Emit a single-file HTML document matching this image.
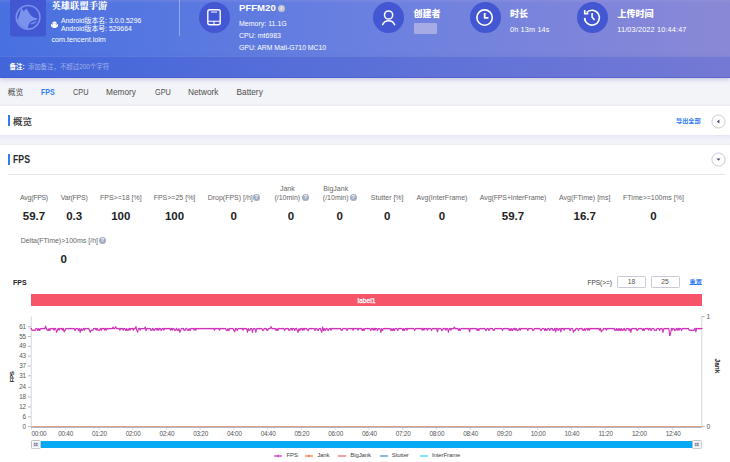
<!DOCTYPE html>
<html><head><meta charset="utf-8">
<style>
*{box-sizing:border-box;margin:0;padding:0}
html,body{width:730px;height:462px;overflow:hidden;background:#fff}
body{position:relative;font-family:"Liberation Sans","Noto Sans CJK SC",sans-serif;color:#333}
.a{position:absolute;white-space:nowrap}
#hdr{position:absolute;left:0;top:0;width:730px;height:56px;background:linear-gradient(180deg,rgba(180,170,230,.2) 0,rgba(180,170,230,0) 3px),linear-gradient(90deg,#4870e0 0%,#6a80e0 50%,#8a88d6 100%)}
#band{position:absolute;left:0;top:55.6px;width:730px;height:22.8px;background:linear-gradient(90deg,#4266da 0%,#5a70d8 50%,#7479d4 100%);border-top:1px solid rgba(255,255,255,.1);border-bottom:1px solid rgba(70,80,200,.45);box-shadow:0 2px 4px rgba(120,120,185,.32)}
#tabs{position:absolute;left:0;top:78px;width:730px;height:27.5px;background:linear-gradient(180deg,#f3f4f8 0%,#f3f4f8 92%,#eceef4 100%)}
#sec1{position:absolute;left:0;top:105.5px;width:730px;height:29.5px;background:#fff}
#gap{position:absolute;left:0;top:135px;width:730px;height:10px;background:linear-gradient(180deg,#e4e7f1 0%,#f1f2f7 40%,#f3f4f8 80%,#eceef5 100%)}
#sec2{position:absolute;left:0;top:145px;width:730px;height:317px;background:#fff}
.w{color:#fff}
.circ{position:absolute;width:31px;height:31px;border-radius:50%;background:#4357d2}
.tab{position:absolute;top:86.2px;font-size:8.3px;color:#4d4d4d;line-height:12px}
.lbl{position:absolute;font-size:7px;color:#666;line-height:9px;text-align:center;white-space:nowrap}
.val{position:absolute;font-size:11.5px;font-weight:bold;color:#222;line-height:14px;text-align:center}
.q{display:inline-block;width:7px;height:7px;border-radius:50%;background:#a3abc2;color:#fff;font-size:6px;line-height:7px;text-align:center;font-weight:bold;vertical-align:-1px;margin-left:1px}
.yl{position:absolute;font-size:6.5px;color:#555;line-height:8px;text-align:right;width:20px;left:6px}
.xl{position:absolute;font-size:6.5px;color:#555;line-height:8px;top:430px;width:30px;text-align:center}
.lg{position:absolute;top:450.7px;font-size:6px;color:#444;line-height:9px;letter-spacing:-0.1px}
.qi{position:absolute;width:7px;height:7px;border-radius:50%;background:#a5adc4}
.qi:after{content:"?";position:absolute;left:0;top:0;width:7px;text-align:center;font-size:5.5px;line-height:7px;font-weight:bold;color:#fff}
.inp{position:absolute;top:276.1px;width:29.2px;height:11.8px;border:0.8px solid #c9ccd4;border-radius:1.2px;background:#fff;font-size:6.8px;line-height:10.6px;text-align:center;color:#555}
.hdl{position:absolute;top:440px;width:9.7px;height:9px;border:1px solid #c4c4c8;border-radius:1px;background:#f6f6f7;box-shadow:inset 0 0 0 1px #fdfdfd}
.hdl:after{content:"";position:absolute;left:2.9px;top:2.9px;width:3.7px;height:3.1px;background:linear-gradient(90deg,transparent 45%,#fff 45%,#fff 60%,transparent 60%),linear-gradient(180deg,#7d82a0 45%,#fff 45%,#fff 58%,#7d82a0 58%)}
</style></head>
<body>
<div id="tabs"></div>
<div id="hdr"></div>
<div id="band"></div>
<div id="sec1"></div>
<div id="gap"></div>
<div id="sec2"></div>

<!-- app icon -->
<svg class="a" style="left:10px;top:0px" width="36" height="37" viewBox="0 0 36 37">
  <rect x="0" y="-4" width="36" height="40.5" rx="3" fill="#4257d2"/>
  <circle cx="18.1" cy="17.3" r="11.8" fill="none" stroke="#7b93ec" stroke-width="1.6"/>
  <path d="M11.5 7.5 L13.5 11.6 L16.5 8.6 L18.7 12.6 L21.4 16 L24.2 17.8 L27.7 18.4 L26.2 20 L23.4 20.4 L19.9 22.3 L18.2 25.8 L17.9 28.3 A11.05 11.05 0 0 1 7.6 20.2 L9.6 14.8 Z" fill="#7b93ec"/>
  <path d="M20.6 23.4 Q23.8 21.6 27.3 20.9 Q25.6 23 21.6 24.6 Z" fill="#7b93ec"/>
</svg>

<div class="a w" style="left:51.5px;top:-1px;font-size:9.3px;font-weight:900;line-height:13px;font-family:'Noto Serif CJK SC',serif">英雄联盟手游</div>
<svg class="a" style="left:51.4px;top:20.8px" width="7" height="7.4" viewBox="0 0 7 7.4">
  <path d="M1.15 2.75 A2.35 2.3 0 0 1 5.85 2.75 Z" fill="#fff"/>
  <rect x="1.15" y="3.05" width="4.7" height="3.9" rx="1.1" fill="#fff"/>
  <rect x="0" y="3.1" width="1" height="2.6" rx="0.5" fill="#fff"/>
  <rect x="6" y="3.1" width="1" height="2.6" rx="0.5" fill="#fff"/>
</svg>
<div class="a w" style="left:61px;top:15.7px;font-size:6.85px;line-height:9px">Android版本名: 3.0.0.5296</div>
<div class="a w" style="left:61px;top:24.2px;font-size:6.85px;line-height:9px">Android版本号: 529664</div>
<div class="a w" style="left:51.5px;top:34.6px;font-size:7.2px;line-height:9px">com.tencent.lolm</div>

<div class="a" style="left:178.5px;top:0;width:1px;height:35.5px;background:rgba(255,255,255,.35)"></div>

<!-- device -->
<div class="circ" style="left:198.5px;top:1.5px"></div>
<svg class="a" style="left:198.5px;top:1.5px" width="31" height="31" viewBox="0 0 31 31">
  <rect x="8.8" y="7.8" width="12.4" height="14.9" rx="2" fill="none" stroke="#fff" stroke-width="1.4"/>
  <rect x="11.9" y="9.5" width="6.2" height="1.1" fill="#e4e8ff"/>
  <path d="M8.8 19.3 H21.2 M15 19.3 V22.6" stroke="#fff" stroke-width="1.1" fill="none"/>
</svg>
<div class="a w" style="left:239.2px;top:1.7px;font-size:9.9px;font-weight:bold;line-height:12px;transform:scaleX(.97);transform-origin:0 0">PFFM20</div>
<div class="a" style="left:277.8px;top:4.9px;width:7px;height:7px;border-radius:50%;background:#c3c5d1;color:#fff;font-size:5.6px;line-height:7px;text-align:center;font-weight:bold;font-style:italic">i</div>
<div class="a w" style="left:239px;top:19px;font-size:7px;line-height:9px">Memory: 11.1G</div>
<div class="a w" style="left:239px;top:31px;font-size:7px;line-height:9px">CPU: mt6983</div>
<div class="a w" style="left:239px;top:43px;font-size:6.85px;line-height:9px">GPU: ARM Mali-G710 MC10</div>

<!-- creator -->
<div class="circ" style="left:372.5px;top:1.5px"></div>
<svg class="a" style="left:372.5px;top:1.5px" width="31" height="31" viewBox="0 0 31 31">
  <circle cx="15.6" cy="13" r="4.1" fill="none" stroke="#fff" stroke-width="1.5"/>
  <path d="M9.6 22.6 A6.6 6.6 0 0 1 21.6 22.6" fill="none" stroke="#fff" stroke-width="1.5" stroke-linecap="round"/>
</svg>
<div class="a w" style="left:413.5px;top:6.5px;font-size:9px;font-weight:900;line-height:13px;font-family:'Noto Sans CJK SC',sans-serif">创建者</div>
<div class="a" style="left:413.5px;top:22.5px;width:23px;height:11px;background:#a6abe6;border-radius:1px"></div>

<!-- duration -->
<div class="circ" style="left:469.5px;top:1.5px"></div>
<svg class="a" style="left:469.5px;top:1.5px" width="31" height="31" viewBox="0 0 31 31">
  <circle cx="14.6" cy="15.6" r="7.7" fill="none" stroke="#fff" stroke-width="1.6"/>
  <path d="M14.7 10.9 V15.9 H18.4" fill="none" stroke="#fff" stroke-width="1.8"/>
</svg>
<div class="a w" style="left:510px;top:6.5px;font-size:9px;font-weight:900;line-height:13px;font-family:'Noto Sans CJK SC',sans-serif">时长</div>
<div class="a w" style="left:510px;top:25.2px;font-size:7.3px;line-height:9px;letter-spacing:0.15px">0h 13m 14s</div>

<!-- upload -->
<div class="circ" style="left:576.5px;top:1.5px"></div>
<svg class="a" style="left:576.5px;top:1.5px" width="31" height="31" viewBox="0 0 31 31">
  <path d="M9.6 10.6 A7.4 7.4 0 1 1 7.6 15.9" fill="none" stroke="#fff" stroke-width="1.6"/>
  <path d="M7.7 8 V11.7 H11.4" fill="none" stroke="#fff" stroke-width="1.6"/>
  <path d="M15.1 11.1 V15.3 L17.6 17.9" fill="none" stroke="#fff" stroke-width="1.6"/>
</svg>
<div class="a w" style="left:617.5px;top:7px;font-size:9px;font-weight:900;line-height:13px;font-family:'Noto Sans CJK SC',sans-serif">上传时间</div>
<div class="a w" style="left:617.3px;top:25.2px;font-size:7.3px;line-height:9px;letter-spacing:0.15px">11/03/2022 10:44:47</div>

<!-- remark -->
<div class="a w" style="left:9.6px;top:62.2px;font-size:6.5px;font-weight:bold;line-height:10px">备注:</div>
<div class="a" style="left:27.7px;top:62.2px;font-size:6.45px;line-height:10px;color:rgba(255,255,255,.47)">添加备注，不超过200个字符</div>

<!-- tabs -->
<div class="tab" style="left:7.7px;font-size:7.8px;top:87.4px">概览</div>
<div class="tab" style="left:41px;color:#2f7cf6;font-weight:bold;font-size:8.4px;transform:scaleX(.84);transform-origin:0 0">FPS</div>
<div class="tab" style="left:72.5px;transform:scaleX(.89);transform-origin:0 0">CPU</div>
<div class="tab" style="left:106px">Memory</div>
<div class="tab" style="left:154.5px;transform:scaleX(.88);transform-origin:0 0">GPU</div>
<div class="tab" style="left:188px">Network</div>
<div class="tab" style="left:236.5px">Battery</div>

<!-- section titles -->
<div class="a" style="left:8px;top:115px;width:2px;height:11px;background:#2f7cf6"></div>
<div class="a" style="left:13px;top:114.2px;font-size:9.6px;line-height:14px;color:#2a2a2a;font-weight:500;font-family:'Noto Sans CJK SC',sans-serif">概览</div>
<div class="a" style="left:676px;top:116.3px;font-size:6.2px;line-height:9px;color:#2f7cf6;font-weight:bold;font-family:'Noto Sans CJK SC',sans-serif">导出全部</div>
<svg class="a" style="left:710.5px;top:114px" width="15" height="15" viewBox="0 0 15 15">
  <circle cx="7.5" cy="7.5" r="6.6" fill="#fff" stroke="#c3c7d3" stroke-width="0.9"/>
  <path d="M5.9 7.5 L8.4 5.6 V9.4 Z" fill="#3d4463"/>
</svg>

<div class="a" style="left:8px;top:153.5px;width:2px;height:11.5px;background:#2f7cf6"></div>
<div class="a" style="left:13.3px;top:153.2px;font-size:10.2px;font-weight:bold;line-height:14px;color:#2a2a2a;transform:scaleX(.86);transform-origin:0 0">FPS</div>
<svg class="a" style="left:710.5px;top:152px" width="15" height="15" viewBox="0 0 15 15">
  <circle cx="7.5" cy="7.5" r="6.6" fill="#fff" stroke="#c3c7d3" stroke-width="0.9"/>
  <path d="M5.6 6.4 L9.4 6.4 L7.5 8.8 Z" fill="#3d4463"/>
</svg>
<div class="a" style="left:8px;top:174px;width:717px;height:1px;background:#e6e8ee"></div>

<!-- stats -->
<div class="lbl" style="left:-26.0px;top:193.0px;width:120px;letter-spacing:-0.30px">Avg(FPS)</div>
<div class="val" style="left:4.0px;top:208.5px;width:60px">59.7</div>
<div class="lbl" style="left:14.2px;top:193.0px;width:120px;letter-spacing:-0.25px">Var(FPS)</div>
<div class="val" style="left:44.2px;top:208.5px;width:60px">0.3</div>
<div class="lbl" style="left:60.8px;top:193.0px;width:120px">FPS&gt;=18 [%]</div>
<div class="val" style="left:90.8px;top:208.5px;width:60px">100</div>
<div class="lbl" style="left:114.5px;top:193.0px;width:120px">FPS&gt;=25 [%]</div>
<div class="val" style="left:144.5px;top:208.5px;width:60px">100</div>
<div class="lbl" style="left:170.2px;top:193.0px;width:120px">Drop(FPS) [/h]</div>
<div class="lbl" style="left:327.2px;top:193.0px;width:120px">Stutter [%]</div>
<div class="val" style="left:357.2px;top:208.5px;width:60px">0</div>
<div class="lbl" style="left:382.0px;top:193.0px;width:120px">Avg(InterFrame)</div>
<div class="val" style="left:412.0px;top:208.5px;width:60px">0</div>
<div class="lbl" style="left:453.0px;top:193.0px;width:120px;letter-spacing:-0.12px">Avg(FPS+InterFrame)</div>
<div class="val" style="left:483.0px;top:208.5px;width:60px">59.7</div>
<div class="lbl" style="left:524.7px;top:193.0px;width:120px">Avg(FTime) [ms]</div>
<div class="val" style="left:554.7px;top:208.5px;width:60px">16.7</div>
<div class="lbl" style="left:593.5px;top:193.0px;width:120px">FTime&gt;=100ms [%]</div>
<div class="val" style="left:623.5px;top:208.5px;width:60px">0</div>
<div class="val" style="left:203.7px;top:208.5px;width:60px">0</div>
<span class="qi" style="left:253.0px;top:194.2px"></span>
<div class="lbl" style="left:227.3px;top:184.4px;width:120px">Jank</div>
<div class="lbl" style="left:227.3px;top:193.0px;width:120px">(/10min)</div>
<span class="qi" style="left:301.9px;top:194.2px"></span>
<div class="val" style="left:261.0px;top:208.5px;width:60px">0</div>
<div class="lbl" style="left:275.7px;top:184.4px;width:120px">BigJank</div>
<div class="lbl" style="left:275.7px;top:193.0px;width:120px">(/10min)</div>
<span class="qi" style="left:349.8px;top:194.2px"></span>
<div class="val" style="left:309.6px;top:208.5px;width:60px">0</div>
<div class="lbl" style="left:-0.7px;top:236.3px;width:120px">Delta(FTime)&gt;100ms [/h]</div>
<span class="qi" style="left:98.9px;top:237.1px"></span>
<div class="val" style="left:33.7px;top:251.8px;width:60px">0</div>

<!-- chart -->
<svg class="a" style="left:0;top:0" width="730" height="462" viewBox="0 0 730 462">
<line x1="31.2" y1="316.5" x2="31.2" y2="426.6" stroke="#d3d5dc" stroke-width="1"/>
<line x1="701.8" y1="316.5" x2="701.8" y2="426.6" stroke="#d3d5dc" stroke-width="1"/>
<line x1="28" y1="326.70" x2="30.7" y2="326.70" stroke="#9a9a9a" stroke-width="0.7"/>
<text x="25.9" y="328.80" text-anchor="end" font-size="6.3" letter-spacing="-0.2" fill="#555">61</text>
<line x1="28" y1="336.53" x2="30.7" y2="336.53" stroke="#9a9a9a" stroke-width="0.7"/>
<text x="25.9" y="338.63" text-anchor="end" font-size="6.3" letter-spacing="-0.2" fill="#555">55</text>
<line x1="28" y1="346.35" x2="30.7" y2="346.35" stroke="#9a9a9a" stroke-width="0.7"/>
<text x="25.9" y="348.45" text-anchor="end" font-size="6.3" letter-spacing="-0.2" fill="#555">49</text>
<line x1="28" y1="356.18" x2="30.7" y2="356.18" stroke="#9a9a9a" stroke-width="0.7"/>
<text x="25.9" y="358.28" text-anchor="end" font-size="6.3" letter-spacing="-0.2" fill="#555">43</text>
<line x1="28" y1="366.00" x2="30.7" y2="366.00" stroke="#9a9a9a" stroke-width="0.7"/>
<text x="25.9" y="368.10" text-anchor="end" font-size="6.3" letter-spacing="-0.2" fill="#555">37</text>
<line x1="28" y1="375.83" x2="30.7" y2="375.83" stroke="#9a9a9a" stroke-width="0.7"/>
<text x="25.9" y="377.93" text-anchor="end" font-size="6.3" letter-spacing="-0.2" fill="#555">31</text>
<line x1="28" y1="387.30" x2="30.7" y2="387.30" stroke="#9a9a9a" stroke-width="0.7"/>
<text x="25.9" y="389.40" text-anchor="end" font-size="6.3" letter-spacing="-0.2" fill="#555">24</text>
<line x1="28" y1="397.12" x2="30.7" y2="397.12" stroke="#9a9a9a" stroke-width="0.7"/>
<text x="25.9" y="399.22" text-anchor="end" font-size="6.3" letter-spacing="-0.2" fill="#555">18</text>
<line x1="28" y1="406.95" x2="30.7" y2="406.95" stroke="#9a9a9a" stroke-width="0.7"/>
<text x="25.9" y="409.05" text-anchor="end" font-size="6.3" letter-spacing="-0.2" fill="#555">12</text>
<line x1="28" y1="416.77" x2="30.7" y2="416.77" stroke="#9a9a9a" stroke-width="0.7"/>
<text x="25.9" y="418.87" text-anchor="end" font-size="6.3" letter-spacing="-0.2" fill="#555">6</text>
<line x1="28" y1="426.60" x2="30.7" y2="426.60" stroke="#9a9a9a" stroke-width="0.7"/>
<text x="25.9" y="428.70" text-anchor="end" font-size="6.3" letter-spacing="-0.2" fill="#555">0</text>
<line x1="701.8" y1="316.6" x2="704.8" y2="316.6" stroke="#9a9a9a" stroke-width="0.7"/>
<line x1="701.8" y1="426.6" x2="704.8" y2="426.6" stroke="#9a9a9a" stroke-width="0.7"/>
<text x="706.5" y="318.9" font-size="6.6" fill="#555">1</text>
<text x="706.5" y="428.9" font-size="6.6" fill="#555">0</text>
<line x1="31.40" y1="426.6" x2="31.40" y2="429.6" stroke="#c8c8c8" stroke-width="0.7"/>
<text x="31.5" y="436.1" font-size="6.4" letter-spacing="-0.25" fill="#555">00:00</text>
<line x1="65.15" y1="426.6" x2="65.15" y2="429.6" stroke="#c8c8c8" stroke-width="0.7"/>
<text x="65.60" y="436.1" text-anchor="middle" font-size="6.4" letter-spacing="-0.25" fill="#555">00:40</text>
<line x1="98.90" y1="426.6" x2="98.90" y2="429.6" stroke="#c8c8c8" stroke-width="0.7"/>
<text x="99.35" y="436.1" text-anchor="middle" font-size="6.4" letter-spacing="-0.25" fill="#555">01:20</text>
<line x1="132.65" y1="426.6" x2="132.65" y2="429.6" stroke="#c8c8c8" stroke-width="0.7"/>
<text x="133.10" y="436.1" text-anchor="middle" font-size="6.4" letter-spacing="-0.25" fill="#555">02:00</text>
<line x1="166.40" y1="426.6" x2="166.40" y2="429.6" stroke="#c8c8c8" stroke-width="0.7"/>
<text x="166.85" y="436.1" text-anchor="middle" font-size="6.4" letter-spacing="-0.25" fill="#555">02:40</text>
<line x1="200.15" y1="426.6" x2="200.15" y2="429.6" stroke="#c8c8c8" stroke-width="0.7"/>
<text x="200.60" y="436.1" text-anchor="middle" font-size="6.4" letter-spacing="-0.25" fill="#555">03:20</text>
<line x1="233.90" y1="426.6" x2="233.90" y2="429.6" stroke="#c8c8c8" stroke-width="0.7"/>
<text x="234.35" y="436.1" text-anchor="middle" font-size="6.4" letter-spacing="-0.25" fill="#555">04:00</text>
<line x1="267.65" y1="426.6" x2="267.65" y2="429.6" stroke="#c8c8c8" stroke-width="0.7"/>
<text x="268.10" y="436.1" text-anchor="middle" font-size="6.4" letter-spacing="-0.25" fill="#555">04:40</text>
<line x1="301.40" y1="426.6" x2="301.40" y2="429.6" stroke="#c8c8c8" stroke-width="0.7"/>
<text x="301.85" y="436.1" text-anchor="middle" font-size="6.4" letter-spacing="-0.25" fill="#555">05:20</text>
<line x1="335.15" y1="426.6" x2="335.15" y2="429.6" stroke="#c8c8c8" stroke-width="0.7"/>
<text x="335.60" y="436.1" text-anchor="middle" font-size="6.4" letter-spacing="-0.25" fill="#555">06:00</text>
<line x1="368.90" y1="426.6" x2="368.90" y2="429.6" stroke="#c8c8c8" stroke-width="0.7"/>
<text x="369.35" y="436.1" text-anchor="middle" font-size="6.4" letter-spacing="-0.25" fill="#555">06:40</text>
<line x1="402.65" y1="426.6" x2="402.65" y2="429.6" stroke="#c8c8c8" stroke-width="0.7"/>
<text x="403.10" y="436.1" text-anchor="middle" font-size="6.4" letter-spacing="-0.25" fill="#555">07:20</text>
<line x1="436.40" y1="426.6" x2="436.40" y2="429.6" stroke="#c8c8c8" stroke-width="0.7"/>
<text x="436.85" y="436.1" text-anchor="middle" font-size="6.4" letter-spacing="-0.25" fill="#555">08:00</text>
<line x1="470.15" y1="426.6" x2="470.15" y2="429.6" stroke="#c8c8c8" stroke-width="0.7"/>
<text x="470.60" y="436.1" text-anchor="middle" font-size="6.4" letter-spacing="-0.25" fill="#555">08:40</text>
<line x1="503.90" y1="426.6" x2="503.90" y2="429.6" stroke="#c8c8c8" stroke-width="0.7"/>
<text x="504.35" y="436.1" text-anchor="middle" font-size="6.4" letter-spacing="-0.25" fill="#555">09:20</text>
<line x1="537.65" y1="426.6" x2="537.65" y2="429.6" stroke="#c8c8c8" stroke-width="0.7"/>
<text x="538.10" y="436.1" text-anchor="middle" font-size="6.4" letter-spacing="-0.25" fill="#555">10:00</text>
<line x1="571.40" y1="426.6" x2="571.40" y2="429.6" stroke="#c8c8c8" stroke-width="0.7"/>
<text x="571.85" y="436.1" text-anchor="middle" font-size="6.4" letter-spacing="-0.25" fill="#555">10:40</text>
<line x1="605.15" y1="426.6" x2="605.15" y2="429.6" stroke="#c8c8c8" stroke-width="0.7"/>
<text x="605.60" y="436.1" text-anchor="middle" font-size="6.4" letter-spacing="-0.25" fill="#555">11:20</text>
<line x1="638.90" y1="426.6" x2="638.90" y2="429.6" stroke="#c8c8c8" stroke-width="0.7"/>
<text x="639.35" y="436.1" text-anchor="middle" font-size="6.4" letter-spacing="-0.25" fill="#555">12:00</text>
<line x1="672.65" y1="426.6" x2="672.65" y2="429.6" stroke="#c8c8c8" stroke-width="0.7"/>
<text x="673.10" y="436.1" text-anchor="middle" font-size="6.4" letter-spacing="-0.25" fill="#555">12:40</text>
<line x1="31.2" y1="427.4" x2="701.8" y2="427.4" stroke="#aab0c0" stroke-width="1"/>
<line x1="31.2" y1="426.5" x2="701.8" y2="426.5" stroke="#e2a184" stroke-width="1"/>
<path d="M31.20 328.60 L32.04 330.24 L32.89 330.24 L33.73 330.24 L34.58 330.24 L35.42 330.24 L36.27 328.60 L37.11 328.60 L37.96 330.24 L38.80 328.60 L39.65 330.24 L40.49 328.60 L41.34 328.60 L42.18 328.60 L43.02 328.60 L43.87 328.60 L44.71 328.60 L45.56 326.14 L46.40 328.60 L47.25 330.24 L48.09 330.24 L48.94 328.60 L49.78 330.24 L50.63 328.60 L51.47 328.60 L52.31 328.60 L53.16 328.60 L54.00 330.24 L54.85 328.60 L55.69 328.60 L56.54 331.88 L57.38 330.24 L58.23 328.60 L59.07 330.24 L59.92 328.60 L60.76 328.60 L61.61 328.60 L62.45 330.24 L63.29 328.60 L64.14 331.88 L64.98 330.24 L65.83 328.60 L66.67 328.60 L67.52 328.60 L68.36 328.60 L69.21 328.60 L70.05 328.60 L70.90 328.60 L71.74 328.60 L72.58 328.60 L73.43 328.60 L74.27 328.60 L75.12 330.24 L75.96 328.60 L76.81 328.60 L77.65 328.60 L78.50 330.24 L79.34 328.60 L80.19 331.88 L81.03 328.60 L81.88 330.24 L82.72 330.24 L83.56 328.60 L84.41 330.24 L85.25 328.60 L86.10 328.60 L86.94 328.60 L87.79 328.60 L88.63 328.60 L89.48 330.24 L90.32 331.88 L91.17 330.24 L92.01 330.24 L92.85 330.24 L93.70 328.60 L94.54 328.60 L95.39 328.60 L96.23 330.24 L97.08 328.60 L97.92 330.24 L98.77 330.24 L99.61 330.24 L100.46 328.60 L101.30 330.24 L102.15 328.60 L102.99 328.60 L103.83 328.60 L104.68 330.24 L105.52 328.60 L106.37 330.24 L107.21 328.60 L108.06 328.60 L108.90 328.60 L109.75 328.60 L110.59 328.60 L111.44 328.60 L112.28 328.60 L113.12 326.96 L113.97 328.60 L114.81 328.60 L115.66 326.96 L116.50 328.60 L117.35 328.60 L118.19 328.60 L119.04 328.60 L119.88 330.24 L120.73 328.60 L121.57 328.60 L122.42 328.60 L123.26 330.24 L124.10 328.60 L124.95 328.60 L125.79 330.24 L126.64 328.60 L127.48 330.24 L128.33 330.24 L129.17 328.60 L130.02 330.24 L130.86 328.60 L131.71 328.60 L132.55 328.60 L133.39 330.24 L134.24 328.60 L135.08 328.60 L135.93 326.96 L136.77 330.24 L137.62 331.88 L138.46 328.60 L139.31 328.60 L140.15 330.24 L141.00 328.60 L141.84 328.60 L142.69 328.60 L143.53 328.60 L144.37 328.60 L145.22 326.96 L146.06 330.24 L146.91 328.60 L147.75 328.60 L148.60 328.60 L149.44 328.60 L150.29 328.60 L151.13 330.24 L151.98 330.24 L152.82 328.60 L153.66 330.24 L154.51 330.24 L155.35 328.60 L156.20 328.60 L157.04 330.24 L157.89 328.60 L158.73 330.24 L159.58 328.60 L160.42 328.60 L161.27 330.24 L162.11 328.60 L162.96 328.60 L163.80 330.24 L164.64 328.60 L165.49 328.60 L166.33 328.60 L167.18 328.60 L168.02 328.60 L168.87 328.60 L169.71 328.60 L170.56 330.24 L171.40 328.60 L172.25 330.24 L173.09 328.60 L173.93 328.60 L174.78 330.24 L175.62 330.24 L176.47 328.60 L177.31 330.24 L178.16 330.24 L179.00 328.60 L179.85 331.88 L180.69 330.24 L181.54 328.60 L182.38 328.60 L183.23 328.60 L184.07 330.24 L184.91 330.24 L185.76 328.60 L186.60 328.60 L187.45 330.24 L188.29 330.24 L189.14 328.60 L189.98 330.24 L190.83 328.60 L191.67 328.60 L192.52 328.60 L193.36 328.60 L194.20 330.24 L195.05 328.60 L195.89 330.24 L196.74 328.60 L197.58 328.60 L198.43 328.60 L199.27 328.60 L200.12 328.60 L200.96 328.60 L201.81 328.60 L202.65 328.60 L203.50 328.60 L204.34 328.60 L205.18 328.60 L206.03 328.60 L206.87 328.60 L207.72 328.60 L208.56 328.60 L209.41 328.60 L210.25 328.60 L211.10 328.60 L211.94 328.60 L212.79 328.60 L213.63 328.60 L214.47 330.24 L215.32 328.60 L216.16 328.60 L217.01 328.60 L217.85 328.60 L218.70 328.60 L219.54 330.24 L220.39 328.60 L221.23 328.60 L222.08 328.60 L222.92 328.60 L223.77 328.60 L224.61 328.60 L225.45 328.60 L226.30 330.24 L227.14 330.24 L227.99 328.60 L228.83 330.24 L229.68 328.60 L230.52 328.60 L231.37 328.60 L232.21 328.60 L233.06 328.60 L233.90 330.24 L234.74 331.88 L235.59 328.60 L236.43 328.60 L237.28 330.24 L238.12 328.60 L238.97 328.60 L239.81 328.60 L240.66 328.60 L241.50 328.60 L242.35 328.60 L243.19 330.24 L244.04 328.60 L244.88 328.60 L245.72 328.60 L246.57 328.60 L247.41 331.88 L248.26 328.60 L249.10 330.24 L249.95 330.24 L250.79 328.60 L251.64 328.60 L252.48 331.88 L253.33 328.60 L254.17 328.60 L255.01 328.60 L255.86 331.88 L256.70 328.60 L257.55 328.60 L258.39 328.60 L259.24 328.60 L260.08 328.60 L260.93 328.60 L261.77 328.60 L262.62 330.24 L263.46 330.24 L264.31 328.60 L265.15 328.60 L265.99 328.60 L266.84 330.24 L267.68 330.24 L268.53 328.60 L269.37 328.60 L270.22 328.60 L271.06 326.96 L271.91 328.60 L272.75 328.60 L273.60 328.60 L274.44 328.60 L275.28 328.60 L276.13 330.24 L276.97 328.60 L277.82 330.24 L278.66 328.60 L279.51 328.60 L280.35 328.60 L281.20 328.60 L282.04 328.60 L282.89 328.60 L283.73 328.60 L284.58 330.24 L285.42 328.60 L286.26 328.60 L287.11 328.60 L287.95 328.60 L288.80 330.24 L289.64 330.24 L290.49 328.60 L291.33 328.60 L292.18 330.24 L293.02 328.60 L293.87 328.60 L294.71 330.24 L295.55 328.60 L296.40 328.60 L297.24 330.24 L298.09 331.88 L298.93 328.60 L299.78 330.24 L300.62 328.60 L301.47 328.60 L302.31 330.24 L303.16 328.60 L304.00 330.24 L304.85 328.60 L305.69 328.60 L306.53 328.60 L307.38 330.24 L308.22 330.24 L309.07 328.60 L309.91 328.60 L310.76 328.60 L311.60 328.60 L312.45 328.60 L313.29 328.60 L314.14 328.60 L314.98 330.24 L315.82 328.60 L316.67 328.60 L317.51 330.24 L318.36 330.24 L319.20 328.60 L320.05 328.60 L320.89 330.24 L321.74 331.88 L322.58 326.96 L323.43 330.24 L324.27 328.60 L325.12 330.24 L325.96 328.60 L326.80 328.60 L327.65 330.24 L328.49 330.24 L329.34 328.60 L330.18 328.60 L331.03 330.24 L331.87 328.60 L332.72 328.60 L333.56 328.60 L334.41 328.60 L335.25 328.60 L336.09 328.60 L336.94 328.60 L337.78 328.60 L338.63 328.60 L339.47 328.60 L340.32 328.60 L341.16 330.24 L342.01 330.24 L342.85 328.60 L343.70 328.60 L344.54 328.60 L345.39 328.60 L346.23 328.60 L347.07 330.24 L347.92 328.60 L348.76 328.60 L349.61 328.60 L350.45 328.60 L351.30 328.60 L352.14 328.60 L352.99 330.24 L353.83 328.60 L354.68 328.60 L355.52 328.60 L356.36 328.60 L357.21 328.60 L358.05 330.24 L358.90 328.60 L359.74 328.60 L360.59 328.60 L361.43 328.60 L362.28 330.24 L363.12 328.60 L363.97 330.24 L364.81 328.60 L365.66 328.60 L366.50 328.60 L367.34 328.60 L368.19 328.60 L369.03 328.60 L369.88 328.60 L370.72 330.24 L371.57 328.60 L372.41 328.60 L373.26 330.24 L374.10 328.60 L374.95 330.24 L375.79 328.60 L376.64 328.60 L377.48 330.24 L378.32 328.60 L379.17 328.60 L380.01 328.60 L380.86 331.88 L381.70 328.60 L382.55 330.24 L383.39 328.60 L384.24 328.60 L385.08 328.60 L385.93 328.60 L386.77 328.60 L387.61 328.60 L388.46 328.60 L389.30 328.60 L390.15 328.60 L390.99 330.24 L391.84 328.60 L392.68 330.24 L393.53 328.60 L394.37 330.24 L395.22 328.60 L396.06 328.60 L396.91 328.60 L397.75 330.24 L398.59 328.60 L399.44 328.60 L400.28 328.60 L401.13 328.60 L401.97 328.60 L402.82 330.24 L403.66 328.60 L404.51 330.24 L405.35 328.60 L406.20 328.60 L407.04 330.24 L407.88 328.60 L408.73 328.60 L409.57 328.60 L410.42 328.60 L411.26 328.60 L412.11 328.60 L412.95 328.60 L413.80 328.60 L414.64 330.24 L415.49 328.60 L416.33 328.60 L417.18 328.60 L418.02 328.60 L418.86 328.60 L419.71 328.60 L420.55 328.60 L421.40 328.60 L422.24 330.24 L423.09 328.60 L423.93 330.24 L424.78 328.60 L425.62 328.60 L426.47 328.60 L427.31 330.24 L428.15 328.60 L429.00 328.60 L429.84 328.60 L430.69 328.60 L431.53 330.24 L432.38 328.60 L433.22 328.60 L434.07 328.60 L434.91 328.60 L435.76 328.60 L436.60 328.60 L437.45 331.88 L438.29 328.60 L439.13 328.60 L439.98 328.60 L440.82 328.60 L441.67 330.24 L442.51 330.24 L443.36 328.60 L444.20 328.60 L445.05 328.60 L445.89 330.24 L446.74 328.60 L447.58 328.60 L448.42 331.88 L449.27 328.60 L450.11 328.60 L450.96 330.24 L451.80 328.60 L452.65 328.60 L453.49 328.60 L454.34 326.96 L455.18 328.60 L456.03 328.60 L456.87 328.60 L457.72 328.60 L458.56 330.24 L459.40 328.60 L460.25 330.24 L461.09 328.60 L461.94 328.60 L462.78 328.60 L463.63 328.60 L464.47 328.60 L465.32 328.60 L466.16 328.60 L467.01 328.60 L467.85 328.60 L468.69 328.60 L469.54 331.88 L470.38 328.60 L471.23 328.60 L472.07 328.60 L472.92 328.60 L473.76 328.60 L474.61 328.60 L475.45 328.60 L476.30 328.60 L477.14 330.24 L477.99 328.60 L478.83 330.24 L479.67 328.60 L480.52 328.60 L481.36 328.60 L482.21 328.60 L483.05 328.60 L483.90 328.60 L484.74 328.60 L485.59 330.24 L486.43 330.24 L487.28 328.60 L488.12 328.60 L488.96 330.24 L489.81 328.60 L490.65 328.60 L491.50 328.60 L492.34 328.60 L493.19 330.24 L494.03 330.24 L494.88 328.60 L495.72 328.60 L496.57 328.60 L497.41 328.60 L498.26 328.60 L499.10 328.60 L499.94 328.60 L500.79 328.60 L501.63 328.60 L502.48 330.24 L503.32 328.60 L504.17 328.60 L505.01 328.60 L505.86 328.60 L506.70 328.60 L507.55 328.60 L508.39 328.60 L509.23 330.24 L510.08 328.60 L510.92 330.24 L511.77 328.60 L512.61 330.24 L513.46 328.60 L514.30 328.60 L515.15 330.24 L515.99 328.60 L516.84 330.24 L517.68 330.24 L518.53 330.24 L519.37 328.60 L520.21 330.24 L521.06 328.60 L521.90 328.60 L522.75 328.60 L523.59 328.60 L524.44 328.60 L525.28 328.60 L526.13 328.60 L526.97 328.60 L527.82 330.24 L528.66 328.60 L529.50 328.60 L530.35 328.60 L531.19 328.60 L532.04 328.60 L532.88 330.24 L533.73 330.24 L534.57 328.60 L535.42 328.60 L536.26 328.60 L537.11 328.60 L537.95 328.60 L538.80 328.60 L539.64 328.60 L540.48 330.24 L541.33 330.24 L542.17 328.60 L543.02 328.60 L543.86 328.60 L544.71 330.24 L545.55 328.60 L546.40 330.24 L547.24 330.24 L548.09 328.60 L548.93 328.60 L549.77 330.24 L550.62 328.60 L551.46 328.60 L552.31 328.60 L553.15 330.24 L554.00 330.24 L554.84 328.60 L555.69 331.88 L556.53 328.60 L557.38 328.60 L558.22 330.24 L559.07 328.60 L559.91 328.60 L560.75 331.88 L561.60 328.60 L562.44 328.60 L563.29 328.60 L564.13 330.24 L564.98 328.60 L565.82 328.60 L566.67 328.60 L567.51 328.60 L568.36 328.60 L569.20 328.60 L570.04 330.24 L570.89 328.60 L571.73 328.60 L572.58 328.60 L573.42 331.88 L574.27 330.24 L575.11 330.24 L575.96 328.60 L576.80 328.60 L577.65 328.60 L578.49 330.24 L579.34 328.60 L580.18 328.60 L581.02 328.60 L581.87 328.60 L582.71 330.24 L583.56 330.24 L584.40 328.60 L585.25 330.24 L586.09 328.60 L586.94 328.60 L587.78 330.24 L588.63 328.60 L589.47 330.24 L590.31 328.60 L591.16 328.60 L592.00 328.60 L592.85 328.60 L593.69 328.60 L594.54 328.60 L595.38 328.60 L596.23 328.60 L597.07 328.60 L597.92 328.60 L598.76 328.60 L599.61 330.24 L600.45 328.60 L601.29 331.88 L602.14 330.24 L602.98 330.24 L603.83 328.60 L604.67 328.60 L605.52 328.60 L606.36 330.24 L607.21 328.60 L608.05 328.60 L608.90 328.60 L609.74 328.60 L610.58 328.60 L611.43 328.60 L612.27 328.60 L613.12 328.60 L613.96 328.60 L614.81 330.24 L615.65 330.24 L616.50 328.60 L617.34 330.24 L618.19 328.60 L619.03 330.24 L619.88 328.60 L620.72 330.24 L621.56 328.60 L622.41 330.24 L623.25 330.24 L624.10 328.60 L624.94 330.24 L625.79 330.24 L626.63 328.60 L627.48 328.60 L628.32 328.60 L629.17 330.24 L630.01 328.60 L630.85 331.88 L631.70 328.60 L632.54 328.60 L633.39 328.60 L634.23 328.60 L635.08 328.60 L635.92 328.60 L636.77 330.24 L637.61 330.24 L638.46 328.60 L639.30 328.60 L640.15 328.60 L640.99 328.60 L641.83 328.60 L642.68 330.24 L643.52 328.60 L644.37 330.24 L645.21 328.60 L646.06 328.60 L646.90 328.60 L647.75 328.60 L648.59 330.24 L649.44 328.60 L650.28 328.60 L651.12 330.24 L651.97 328.60 L652.81 328.60 L653.66 328.60 L654.50 330.24 L655.35 330.24 L656.19 330.24 L657.04 328.60 L657.88 328.60 L658.73 328.60 L659.57 330.24 L660.42 328.60 L661.26 328.60 L662.10 328.60 L662.95 331.88 L663.79 328.60 L664.64 328.60 L665.48 328.60 L666.33 328.60 L667.17 328.60 L668.02 328.60 L668.86 328.60 L669.71 335.49 L670.55 333.52 L671.39 328.60 L672.24 330.24 L673.08 328.60 L673.93 328.60 L674.77 330.24 L675.62 330.24 L676.46 328.60 L677.31 330.24 L678.15 328.60 L679.00 330.24 L679.84 328.60 L680.69 328.60 L681.53 330.24 L682.37 328.60 L683.22 328.60 L684.06 328.60 L684.91 328.60 L685.75 328.60 L686.60 328.60 L687.44 328.60 L688.29 328.60 L689.13 330.24 L689.98 330.24 L690.82 330.24 L691.66 330.24 L692.51 330.24 L693.35 330.24 L694.20 330.24 L695.04 328.60 L695.89 331.88 L696.73 328.60 L697.58 328.60 L698.42 328.60 L699.27 328.60 L700.11 328.60 L700.96 328.60 L701.80 328.60" fill="none" stroke="#d032ba" stroke-width="1.1" stroke-linejoin="round"/>
<path d="M31.20 328.60h0.01M32.89 330.24h0.01M34.58 330.24h0.01M36.27 328.60h0.01M37.96 330.24h0.01M39.65 330.24h0.01M41.34 328.60h0.01M43.02 328.60h0.01M44.71 328.60h0.01M46.40 328.60h0.01M48.09 330.24h0.01M49.78 330.24h0.01M51.47 328.60h0.01M53.16 328.60h0.01M54.85 328.60h0.01M56.54 331.88h0.01M58.23 328.60h0.01M59.92 328.60h0.01M61.61 328.60h0.01M63.29 328.60h0.01M64.98 330.24h0.01M66.67 328.60h0.01M68.36 328.60h0.01M70.05 328.60h0.01M71.74 328.60h0.01M73.43 328.60h0.01M75.12 330.24h0.01M76.81 328.60h0.01M78.50 330.24h0.01M80.19 331.88h0.01M81.88 330.24h0.01M83.56 328.60h0.01M85.25 328.60h0.01M86.94 328.60h0.01M88.63 328.60h0.01M90.32 331.88h0.01M92.01 330.24h0.01M93.70 328.60h0.01M95.39 328.60h0.01M97.08 328.60h0.01M98.77 330.24h0.01M100.46 328.60h0.01M102.15 328.60h0.01M103.83 328.60h0.01M105.52 328.60h0.01M107.21 328.60h0.01M108.90 328.60h0.01M110.59 328.60h0.01M112.28 328.60h0.01M113.97 328.60h0.01M115.66 326.96h0.01M117.35 328.60h0.01M119.04 328.60h0.01M120.73 328.60h0.01M122.42 328.60h0.01M124.10 328.60h0.01M125.79 330.24h0.01M127.48 330.24h0.01M129.17 328.60h0.01M130.86 328.60h0.01M132.55 328.60h0.01M134.24 328.60h0.01M135.93 326.96h0.01M137.62 331.88h0.01M139.31 328.60h0.01M141.00 328.60h0.01M142.69 328.60h0.01M144.37 328.60h0.01M146.06 330.24h0.01M147.75 328.60h0.01M149.44 328.60h0.01M151.13 330.24h0.01M152.82 328.60h0.01M154.51 330.24h0.01M156.20 328.60h0.01M157.89 328.60h0.01M159.58 328.60h0.01M161.27 330.24h0.01M162.96 328.60h0.01M164.64 328.60h0.01M166.33 328.60h0.01M168.02 328.60h0.01M169.71 328.60h0.01M171.40 328.60h0.01M173.09 328.60h0.01M174.78 330.24h0.01M176.47 328.60h0.01M178.16 330.24h0.01M179.85 331.88h0.01M181.54 328.60h0.01M183.23 328.60h0.01M184.91 330.24h0.01M186.60 328.60h0.01M188.29 330.24h0.01M189.98 330.24h0.01M191.67 328.60h0.01M193.36 328.60h0.01M195.05 328.60h0.01M196.74 328.60h0.01M198.43 328.60h0.01M200.12 328.60h0.01M201.81 328.60h0.01M203.50 328.60h0.01M205.18 328.60h0.01M206.87 328.60h0.01M208.56 328.60h0.01M210.25 328.60h0.01M211.94 328.60h0.01M213.63 328.60h0.01M215.32 328.60h0.01M217.01 328.60h0.01M218.70 328.60h0.01M220.39 328.60h0.01M222.08 328.60h0.01M223.77 328.60h0.01M225.45 328.60h0.01M227.14 330.24h0.01M228.83 330.24h0.01M230.52 328.60h0.01M232.21 328.60h0.01M233.90 330.24h0.01M235.59 328.60h0.01M237.28 330.24h0.01M238.97 328.60h0.01M240.66 328.60h0.01M242.35 328.60h0.01M244.04 328.60h0.01M245.72 328.60h0.01M247.41 331.88h0.01M249.10 330.24h0.01M250.79 328.60h0.01M252.48 331.88h0.01M254.17 328.60h0.01M255.86 331.88h0.01M257.55 328.60h0.01M259.24 328.60h0.01M260.93 328.60h0.01M262.62 330.24h0.01M264.31 328.60h0.01M265.99 328.60h0.01M267.68 330.24h0.01M269.37 328.60h0.01M271.06 326.96h0.01M272.75 328.60h0.01M274.44 328.60h0.01M276.13 330.24h0.01M277.82 330.24h0.01M279.51 328.60h0.01M281.20 328.60h0.01M282.89 328.60h0.01M284.58 330.24h0.01M286.26 328.60h0.01M287.95 328.60h0.01M289.64 330.24h0.01M291.33 328.60h0.01M293.02 328.60h0.01M294.71 330.24h0.01M296.40 328.60h0.01M298.09 331.88h0.01M299.78 330.24h0.01M301.47 328.60h0.01M303.16 328.60h0.01M304.85 328.60h0.01M306.53 328.60h0.01M308.22 330.24h0.01M309.91 328.60h0.01M311.60 328.60h0.01M313.29 328.60h0.01M314.98 330.24h0.01M316.67 328.60h0.01M318.36 330.24h0.01M320.05 328.60h0.01M321.74 331.88h0.01M323.43 330.24h0.01M325.12 330.24h0.01M326.80 328.60h0.01M328.49 330.24h0.01M330.18 328.60h0.01M331.87 328.60h0.01M333.56 328.60h0.01M335.25 328.60h0.01M336.94 328.60h0.01M338.63 328.60h0.01M340.32 328.60h0.01M342.01 330.24h0.01M343.70 328.60h0.01M345.39 328.60h0.01M347.07 330.24h0.01M348.76 328.60h0.01M350.45 328.60h0.01M352.14 328.60h0.01M353.83 328.60h0.01M355.52 328.60h0.01M357.21 328.60h0.01M358.90 328.60h0.01M360.59 328.60h0.01M362.28 330.24h0.01M363.97 330.24h0.01M365.66 328.60h0.01M367.34 328.60h0.01M369.03 328.60h0.01M370.72 330.24h0.01M372.41 328.60h0.01M374.10 328.60h0.01M375.79 328.60h0.01M377.48 330.24h0.01M379.17 328.60h0.01M380.86 331.88h0.01M382.55 330.24h0.01M384.24 328.60h0.01M385.93 328.60h0.01M387.61 328.60h0.01M389.30 328.60h0.01M390.99 330.24h0.01M392.68 330.24h0.01M394.37 330.24h0.01M396.06 328.60h0.01M397.75 330.24h0.01M399.44 328.60h0.01M401.13 328.60h0.01M402.82 330.24h0.01M404.51 330.24h0.01M406.20 328.60h0.01M407.88 328.60h0.01M409.57 328.60h0.01M411.26 328.60h0.01M412.95 328.60h0.01M414.64 330.24h0.01M416.33 328.60h0.01M418.02 328.60h0.01M419.71 328.60h0.01M421.40 328.60h0.01M423.09 328.60h0.01M424.78 328.60h0.01M426.47 328.60h0.01M428.15 328.60h0.01M429.84 328.60h0.01M431.53 330.24h0.01M433.22 328.60h0.01M434.91 328.60h0.01M436.60 328.60h0.01M438.29 328.60h0.01M439.98 328.60h0.01M441.67 330.24h0.01M443.36 328.60h0.01M445.05 328.60h0.01M446.74 328.60h0.01M448.42 331.88h0.01M450.11 328.60h0.01M451.80 328.60h0.01M453.49 328.60h0.01M455.18 328.60h0.01M456.87 328.60h0.01M458.56 330.24h0.01M460.25 330.24h0.01M461.94 328.60h0.01M463.63 328.60h0.01M465.32 328.60h0.01M467.01 328.60h0.01M468.69 328.60h0.01M470.38 328.60h0.01M472.07 328.60h0.01M473.76 328.60h0.01M475.45 328.60h0.01M477.14 330.24h0.01M478.83 330.24h0.01M480.52 328.60h0.01M482.21 328.60h0.01M483.90 328.60h0.01M485.59 330.24h0.01M487.28 328.60h0.01M488.96 330.24h0.01M490.65 328.60h0.01M492.34 328.60h0.01M494.03 330.24h0.01M495.72 328.60h0.01M497.41 328.60h0.01M499.10 328.60h0.01M500.79 328.60h0.01M502.48 330.24h0.01M504.17 328.60h0.01M505.86 328.60h0.01M507.55 328.60h0.01M509.23 330.24h0.01M510.92 330.24h0.01M512.61 330.24h0.01M514.30 328.60h0.01M515.99 328.60h0.01M517.68 330.24h0.01M519.37 328.60h0.01M521.06 328.60h0.01M522.75 328.60h0.01M524.44 328.60h0.01M526.13 328.60h0.01M527.82 330.24h0.01M529.50 328.60h0.01M531.19 328.60h0.01M532.88 330.24h0.01M534.57 328.60h0.01M536.26 328.60h0.01M537.95 328.60h0.01M539.64 328.60h0.01M541.33 330.24h0.01M543.02 328.60h0.01M544.71 330.24h0.01M546.40 330.24h0.01M548.09 328.60h0.01M549.77 330.24h0.01M551.46 328.60h0.01M553.15 330.24h0.01M554.84 328.60h0.01M556.53 328.60h0.01M558.22 330.24h0.01M559.91 328.60h0.01M561.60 328.60h0.01M563.29 328.60h0.01M564.98 328.60h0.01M566.67 328.60h0.01M568.36 328.60h0.01M570.04 330.24h0.01M571.73 328.60h0.01M573.42 331.88h0.01M575.11 330.24h0.01M576.80 328.60h0.01M578.49 330.24h0.01M580.18 328.60h0.01M581.87 328.60h0.01M583.56 330.24h0.01M585.25 330.24h0.01M586.94 328.60h0.01M588.63 328.60h0.01M590.31 328.60h0.01M592.00 328.60h0.01M593.69 328.60h0.01M595.38 328.60h0.01M597.07 328.60h0.01M598.76 328.60h0.01M600.45 328.60h0.01M602.14 330.24h0.01M603.83 328.60h0.01M605.52 328.60h0.01M607.21 328.60h0.01M608.90 328.60h0.01M610.58 328.60h0.01M612.27 328.60h0.01M613.96 328.60h0.01M615.65 330.24h0.01M617.34 330.24h0.01M619.03 330.24h0.01M620.72 330.24h0.01M622.41 330.24h0.01M624.10 328.60h0.01M625.79 330.24h0.01M627.48 328.60h0.01M629.17 330.24h0.01M630.85 331.88h0.01M632.54 328.60h0.01M634.23 328.60h0.01M635.92 328.60h0.01M637.61 330.24h0.01M639.30 328.60h0.01M640.99 328.60h0.01M642.68 330.24h0.01M644.37 330.24h0.01M646.06 328.60h0.01M647.75 328.60h0.01M649.44 328.60h0.01M651.12 330.24h0.01M652.81 328.60h0.01M654.50 330.24h0.01M656.19 330.24h0.01M657.88 328.60h0.01M659.57 330.24h0.01M661.26 328.60h0.01M662.95 331.88h0.01M664.64 328.60h0.01M666.33 328.60h0.01M668.02 328.60h0.01M669.71 335.49h0.01M671.39 328.60h0.01M673.08 328.60h0.01M674.77 330.24h0.01M676.46 328.60h0.01M678.15 328.60h0.01M679.84 328.60h0.01M681.53 330.24h0.01M683.22 328.60h0.01M684.91 328.60h0.01M686.60 328.60h0.01M688.29 328.60h0.01M689.98 330.24h0.01M691.66 330.24h0.01M693.35 330.24h0.01M695.04 328.60h0.01M696.73 328.60h0.01M698.42 328.60h0.01M700.11 328.60h0.01M701.80 328.60h0.01" stroke="#d032ba" stroke-width="1.5" stroke-linecap="round" fill="none"/>

</svg>
<div class="a" style="left:12.8px;top:277.2px;font-size:8.1px;font-weight:bold;line-height:11px;color:#222;transform:scaleX(.86);transform-origin:0 0">FPS</div>
<div class="a" style="left:587.6px;top:278.2px;font-size:6.6px;line-height:9px;color:#444;letter-spacing:-0.1px">FPS(&gt;=)</div>
<div class="inp" style="left:617px">18</div>
<div class="inp" style="left:650.5px">25</div>
<div class="a" style="left:689.6px;top:277.4px;font-size:6.2px;font-weight:bold;line-height:9px;color:#2f7cf6;text-decoration:underline;text-underline-offset:0.3px;font-family:'Noto Sans CJK SC',sans-serif">重置</div>
<div class="a" style="left:31.2px;top:294px;width:670.6px;height:12px;background:#f65469;color:#fff;font-size:6.8px;line-height:13px;text-align:center;-webkit-text-stroke:0.25px #fff">label1</div>
<div class="a" style="left:0px;top:372.5px;width:24px;text-align:center;font-size:6.5px;font-weight:bold;line-height:8px;color:#222;transform:rotate(-90deg);transform-origin:12px 4px;font-size:6.2px;letter-spacing:-0.35px">FPS</div>
<div class="a" style="left:705px;top:361.5px;width:24px;text-align:center;font-size:6.5px;font-weight:bold;line-height:8px;color:#222;transform:rotate(90deg);transform-origin:12px 4px">Jank</div>
<div class="a" style="left:40.5px;top:441px;width:652.5px;height:6.9px;background:#03a9f4"></div>
<svg class="a" style="left:31.1px;top:440px" width="10" height="9.2" viewBox="0 0 10 9.2"><rect x="0.5" y="0.5" width="8.8" height="8.2" rx="1" fill="#ececee" stroke="#bfc0c6" stroke-width="1"/><rect x="1.5" y="1.5" width="6.8" height="6.2" fill="none" stroke="#fbfbfb" stroke-width="0.8"/><rect x="2.9" y="2.9" width="1.7" height="1.4" fill="#7d82a0"/><rect x="4.95" y="2.9" width="1.7" height="1.4" fill="#7d82a0"/><rect x="2.9" y="4.65" width="1.7" height="1.4" fill="#7d82a0"/><rect x="4.95" y="4.65" width="1.7" height="1.4" fill="#7d82a0"/></svg>
<svg class="a" style="left:692.4px;top:440px" width="10" height="9.2" viewBox="0 0 10 9.2"><rect x="0.5" y="0.5" width="8.8" height="8.2" rx="1" fill="#ececee" stroke="#bfc0c6" stroke-width="1"/><rect x="1.5" y="1.5" width="6.8" height="6.2" fill="none" stroke="#fbfbfb" stroke-width="0.8"/><rect x="2.9" y="2.9" width="1.7" height="1.4" fill="#7d82a0"/><rect x="4.95" y="2.9" width="1.7" height="1.4" fill="#7d82a0"/><rect x="2.9" y="4.65" width="1.7" height="1.4" fill="#7d82a0"/><rect x="4.95" y="4.65" width="1.7" height="1.4" fill="#7d82a0"/></svg>
<svg class="a" style="left:273.8px;top:452.5px" width="8" height="6" viewBox="0 0 8 6"><line x1="0" y1="3" x2="8" y2="3" stroke="#d148c8" stroke-width="1.3"/><path d="M4 1.4 L5.6 3 L4 4.6 L2.4 3 Z" fill="#d148c8"/></svg>
<div class="lg" style="left:286.5px">FPS</div>
<svg class="a" style="left:305.2px;top:452.5px" width="8" height="6" viewBox="0 0 8 6"><line x1="0" y1="3" x2="8" y2="3" stroke="#f68a4e" stroke-width="1.3"/><path d="M4 1.4 L5.6 3 L4 4.6 L2.4 3 Z" fill="#f68a4e"/></svg>
<div class="lg" style="left:317.2px">Jank</div>
<svg class="a" style="left:338.2px;top:452.5px" width="8" height="6" viewBox="0 0 8 6"><line x1="0" y1="3" x2="8" y2="3" stroke="#f06a6e" stroke-width="1.3"/></svg>
<div class="lg" style="left:350.3px">BigJank</div>
<svg class="a" style="left:379.6px;top:452.5px" width="8" height="6" viewBox="0 0 8 6"><line x1="0" y1="3" x2="8" y2="3" stroke="#4c93e6" stroke-width="1.3"/></svg>
<div class="lg" style="left:391.8px">Stutter</div>
<svg class="a" style="left:419.6px;top:452.5px" width="8" height="6" viewBox="0 0 8 6"><line x1="0" y1="3" x2="8" y2="3" stroke="#46d3ea" stroke-width="1.3"/></svg>
<div class="lg" style="left:432.0px">InterFrame</div>

</body></html>
